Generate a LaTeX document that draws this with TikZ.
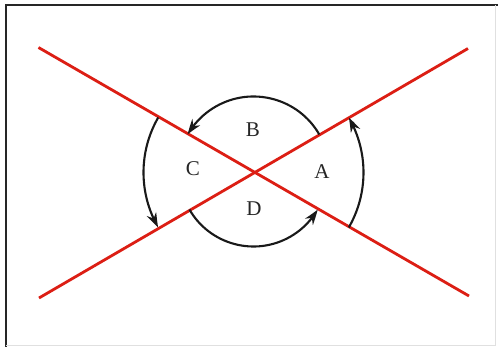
\documentclass[tikz,border=0pt]{standalone}
\usepackage{fontspec}
\setmainfont{Liberation Serif}
\usetikzlibrary{arrows.meta,bending}
\definecolor{xred}{RGB}{220,30,20}
\tikzset{
  redline/.style={draw=xred,line width=2.8pt},
  turnarc/.style={draw=black!90,line width=2.1pt,-{Stealth[length=15pt,width=10pt,bend]}},
  frameline/.style={draw=black!85,line width=2.4pt},
  faintline/.style={draw=black!12,line width=1pt},
  lab/.style={font=\fontsize{21}{21}\selectfont,inner sep=0pt,text=black!85}
}
\begin{document}
\begin{tikzpicture}[x=1pt,y=1pt]
\useasboundingbox (0,0) rectangle (498,347);
\fill[white] (0,0) rectangle (498,347);
% frame
\coordinate (fTL) at (6,342);
\coordinate (fTR) at (498,342);
\coordinate (fBL) at (6,0);
\coordinate (fR1) at (495,342);
\coordinate (fR2) at (495,1);
\coordinate (fB2) at (6,1);
\draw[frameline] (fTR) -- (fTL) -- (fBL);
\draw[faintline] (fR1) -- (fR2) -- (fB2);
% red lines
\coordinate (O) at (253.5,174.5);
\coordinate (L1a) at (38.5,299.5);
\coordinate (L1b) at (469,51);
\coordinate (L2a) at (39,49);
\coordinate (L2b) at (468,298.5);
\draw[redline] (L1a) -- (L1b);
\draw[redline] (L2a) -- (L2b);
% arcs
\path (O) ++(30:76) coordinate (Bs);
\path (O) ++(210:74) coordinate (Ds);
\path (O) ++(150:110) coordinate (Cs);
\path (O) ++(330:110) coordinate (As);
\draw[turnarc] (Bs) arc[start angle=30,end angle=150,radius=76];
\draw[turnarc] (Ds) arc[start angle=210,end angle=330,radius=74];
\draw[turnarc] (Cs) arc[start angle=150,end angle=210,radius=110];
\draw[turnarc] (As) arc[start angle=-30,end angle=30,radius=110];
% labels
\node[lab] (B) at (253,217) {B};
\node[lab] (C) at (193,178) {C};
\node[lab] (A) at (322,175) {A};
\node[lab] (D) at (254,138) {D};
\end{tikzpicture}
\end{document}
